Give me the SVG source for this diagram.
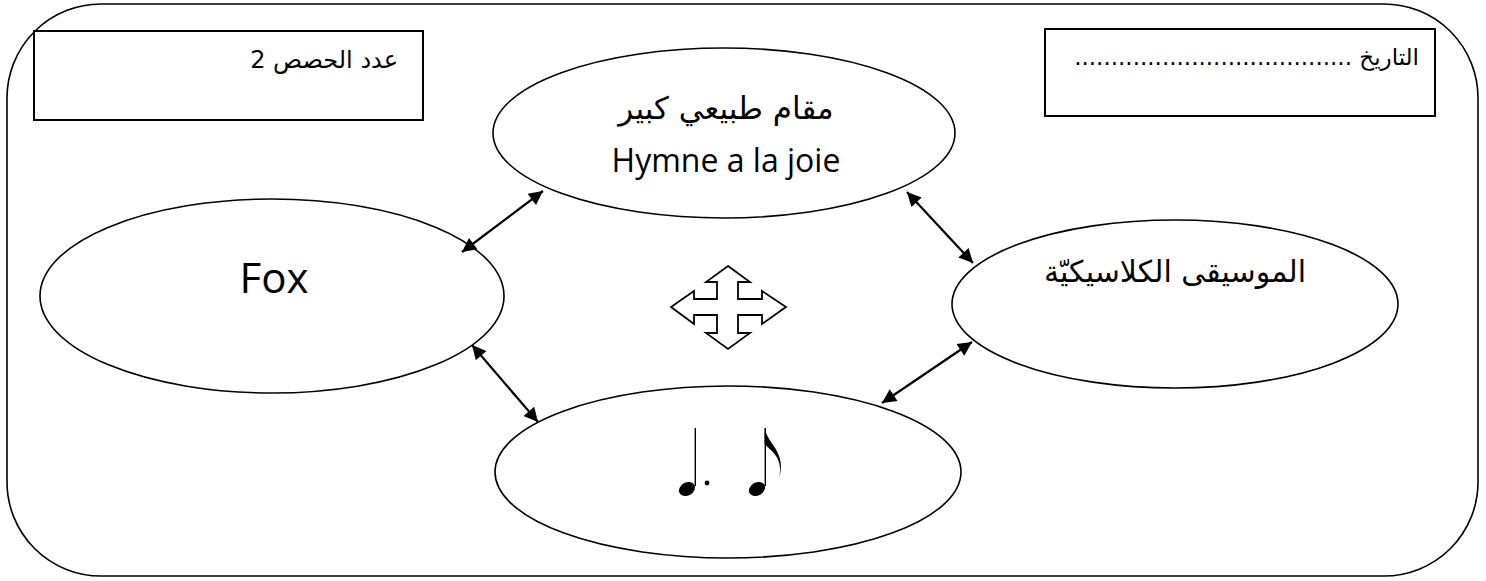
<svg xmlns="http://www.w3.org/2000/svg" width="1486" height="581" viewBox="0 0 1486 581">
<defs>
<marker id="ah" viewBox="0 0 10 10" refX="10" refY="5" markerWidth="17" markerHeight="14" markerUnits="userSpaceOnUse" orient="auto-start-reverse">
<path d="M0,0 L10,5 L0,10 Z" fill="#000"/>
</marker>
<style>
.el{fill:#fff;stroke:#000;stroke-width:1.6}
.box{fill:#fff;stroke:#000;stroke-width:2}
.con{stroke:#000;stroke-width:2.2;fill:none;marker-start:url(#ah);marker-end:url(#ah)}
.ar{font-family:"DejaVu Sans",sans-serif;fill:#000}
.lat{font-family:"Open Sans","Noto Sans",sans-serif;fill:#000}
</style>
</defs>
<rect x="7" y="4" width="1471" height="572" rx="94" ry="94" fill="#fff" stroke="#000" stroke-width="1.6"/>
<g id="box-sessions">
<rect class="box" x="34" y="31" width="389" height="89"/>
<text class="ar" x="398" y="68" font-size="24" text-anchor="end">عدد الحصص 2</text>
</g>
<g id="box-date">
<rect class="box" x="1045" y="29" width="390" height="87"/>
<text class="ar" x="1419" y="65" font-size="23" direction="rtl" text-anchor="start">التاريخ ......................................</text>
</g>
<g id="node-top">
<ellipse class="el" cx="724" cy="133" rx="231" ry="85"/>
<text class="ar" x="726" y="119" font-size="31" text-anchor="middle">مقام طبيعي كبير</text>
<text class="lat" x="726" y="172" font-size="32" text-anchor="middle">Hymne a la joie</text>
</g>
<g id="node-left">
<ellipse class="el" cx="272" cy="296" rx="232" ry="97"/>
<text class="lat" x="274" y="293" font-size="42" text-anchor="middle">Fox</text>
</g>
<g id="node-right">
<ellipse class="el" cx="1175" cy="304" rx="223" ry="84"/>
<text class="ar" x="1175" y="282" font-size="30" text-anchor="middle">الموسيقى الكلاسيكيّة</text>
</g>
<g id="node-bottom">
<ellipse class="el" cx="728" cy="472" rx="233" ry="86"/>
<g id="notes">
<ellipse cx="687" cy="489" rx="8.5" ry="6.5" transform="rotate(-30 687 489)" fill="#000"/>
<line x1="695.3" y1="428" x2="695.3" y2="486" stroke="#000" stroke-width="1.4"/>
<circle cx="707" cy="483" r="2.4" fill="#000"/>
<ellipse cx="757" cy="489" rx="8.5" ry="6.5" transform="rotate(-30 757 489)" fill="#000"/>
<line x1="765.3" y1="428" x2="765.3" y2="486" stroke="#000" stroke-width="1.4"/>
<path d="M764.6,428 C767,440 776,446 779,456 C782,464 781,472 779,478 C781,470 780,462 776,456 C772,450 767,447 764.6,444 Z" fill="#000"/>
</g>
</g>
<g id="cross-arrow">
<polygon points="728,266 750,282 738,282 738,299 762,299 762,291 786,307 762,324 762,315 738,315 738,333 750,333 728,349 706,333 717,333 717,315 694,315 694,324 671,307 694,291 694,299 717,299 717,282 706,282" fill="#fff" stroke="#000" stroke-width="1.8" stroke-linejoin="miter"/>
</g>
<g id="connectors">
<line class="con" x1="462" y1="252" x2="543" y2="191"/>
<line class="con" x1="907" y1="192" x2="973" y2="263"/>
<line class="con" x1="472" y1="345" x2="538" y2="422"/>
<line class="con" x1="882" y1="403" x2="972" y2="342"/>
</g>
</svg>
